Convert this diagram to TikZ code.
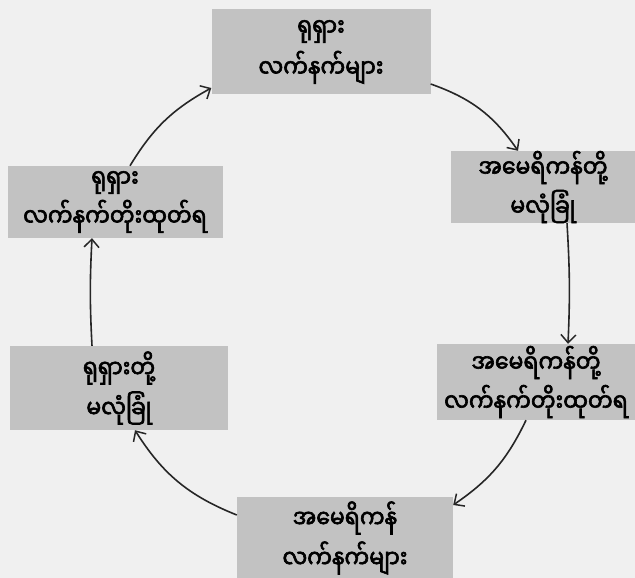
\documentclass[tikz,border=0pt]{standalone}
\usepackage{fontspec}
\newfontfamily\mmfont[Script=Myanmar,FakeBold=2.5,FakeStretch=0.88]{Noto Sans Myanmar UI}
\usetikzlibrary{arrows.meta}
\tikzset{
  box/.style={draw=none, fill=gray!48, minimum width=#1, inner sep=0pt, align=center,
    font=\mmfont\fontsize{25}{34}\selectfont, text=black},
  cyc/.style={draw=black!85, line width=1.6pt, -{Straight Barb[length=8pt,width=15pt,line width=1.5pt]}}
}
\begin{document}
\begin{tikzpicture}[x=1pt,y=-1pt]
\useasboundingbox (0,0) rectangle (635,578);
\fill[gray!12] (0,0) rectangle (635,578);
\node[box=219pt, minimum height=85pt] (t) at (321,52) {ရုရှား\\[7pt]လက်နက်များ};
\node[box=185pt, minimum height=72pt] (rt) at (543,187) {အမေရိကန်တို့\\[5pt]မလုံခြုံ};
\node[box=199pt, minimum height=76pt] (rb) at (536,382) {အမေရိကန်တို့\\[5pt]လက်နက်တိုးထုတ်ရ};
\node[box=216pt, minimum height=82pt] (b) at (345,538) {အမေရိကန်\\[6pt]လက်နက်များ};
\node[box=218pt, minimum height=84pt] (lb) at (119,388) {ရုရှားတို့\\[6pt]မလုံခြုံ};
\node[box=215pt, minimum height=72pt] (lt) at (115,202) {ရုရှား\\[5pt]လက်နက်တိုးထုတ်ရ};
\draw[cyc] (t.east |- 0,84) to[bend left=18] (rt.north -| 518,0);
\draw[cyc] (rt.south -| 567,0) to[bend left=3] (rb.north -| 568,0);
\draw[cyc] (rb.south -| 526,0) to[bend left=15] (b.east |- 0,505);
\draw[cyc] (b.west |- 0,515) to[bend left=18] (lb.south -| 135,0);
\draw[cyc] (lb.north -| 92,0) to[bend left=3] (lt.south -| 92,0);
\draw[cyc] (lt.north -| 130,0) to[bend left=15] (t.west |- 0,88);
\end{tikzpicture}
\end{document}
